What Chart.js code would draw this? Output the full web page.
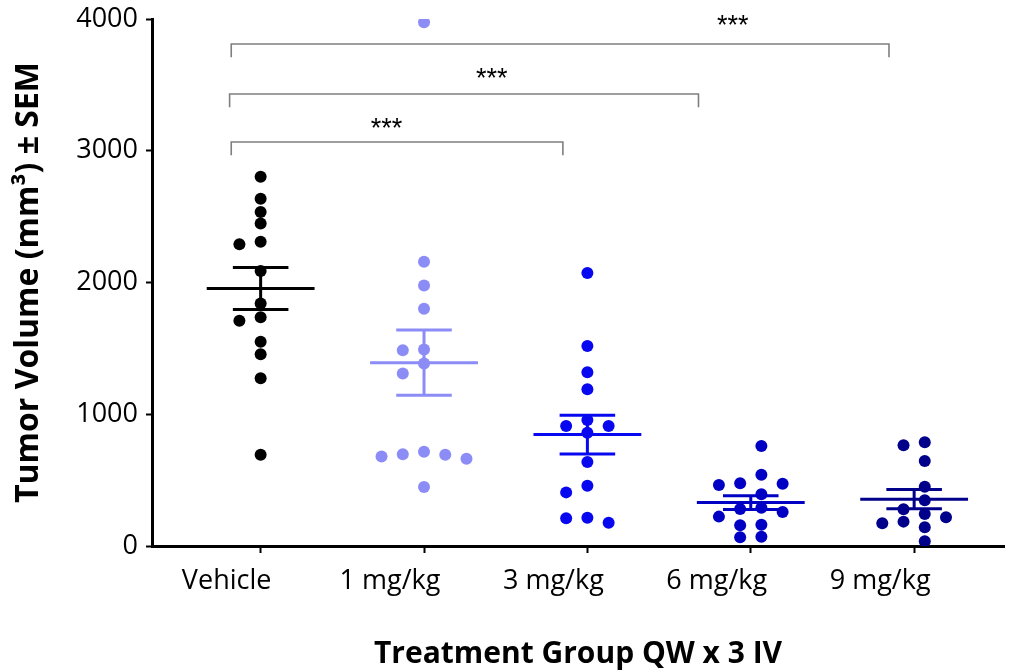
<!DOCTYPE html>
<html>
<head>
<meta charset="utf-8">
<script src="https://cdn.jsdelivr.net/npm/chart.js@4.4.1/dist/chart.umd.min.js"></script>
<style>
  html, body { margin: 0; padding: 0; background: #ffffff; }
  #wrap { width: 1010px; height: 672px; }
</style>
</head>
<body>
<div id="wrap"><canvas id="c" width="1010" height="672"></canvas></div>
<script>
// ---- data ----
const categories = ['Vehicle', '1 mg/kg', '3 mg/kg', '6 mg/kg', '9 mg/kg'];
const vehicle = [2802, 2636, 2535, 2448, 2309, 2290, 2087, 1840, 1736, 1709, 1551, 1456, 1274, 693];
const dose1   = [3975, 2158, 1978, 1801, 1492, 1486, 1386, 1309, 715, 696, 693, 680, 663, 448];
const dose3   = [2072, 1518, 1318, 1189, 956, 911, 911, 860, 638, 458, 407, 215, 210, 177];
const dose6   = [759, 541, 476, 473, 463, 392, 291, 281, 258, 223, 162, 157, 71, 66];
const dose9   = [787, 764, 645, 450, 347, 279, 243, 218, 185, 172, 142, 36];
const yTicks  = [0, 1000, 2000, 3000, 4000];
const groupColors = ['#000000', '#8c8cf7', '#0808f0', '#0000c4', '#00008a'];

// significance brackets (x in category units, y in mm3)
const bracketLeft  = [-0.18, -0.19, -0.18];
const bracketRight = [3.846, 2.68, 1.85];
const bracketLevel = [3810, 3431, 3066];
const starX        = [2.89, 1.415, 0.77];
const starLevel    = [3990, 3590, 3210];
const starText     = ['***', '***', '***'];

const groups = [vehicle, dose1, dose3, dose6, dose9];

// ---- helpers ----
const MIN_GAP = 84;      // vertical overlap limit (mm3) for the swarm layout
const COL_STEP = 0.13;   // horizontal column spacing (category units)

function swarm(values, idx) {
  const order = values.map((v, i) => ({ v, i })).sort((a, b) => b.v - a.v);
  const placed = [];
  for (const o of order) {
    for (const k of [0, -1, 1, -2, 2, -3, 3, -4, 4]) {
      if (!placed.some(p => p.k === k && Math.abs(p.v - o.v) < MIN_GAP)) {
        placed.push({ k, v: o.v });
        break;
      }
    }
  }
  const ks = placed.map(p => p.k);
  const kmin = Math.min(...ks), kmax = Math.max(...ks);
  const shift = (kmax - kmin) >= 3 ? -(kmin + kmax) / 2 : 0;
  return placed.map(p => ({ x: idx + (p.k + shift) * COL_STEP, y: p.v }));
}

function meanSem(values) {
  const n = values.length;
  const m = values.reduce((a, b) => a + b, 0) / n;
  const sd = Math.sqrt(values.reduce((a, b) => a + (b - m) * (b - m), 0) / (n - 1));
  return { m, sem: sd / Math.sqrt(n) };
}

const datasets = [];
groups.forEach((vals, i) => {
  const { m, sem } = meanSem(vals);
  datasets.push({
    type: 'line',
    label: categories[i] + ' mean',
    data: [
      { x: i - 0.33, y: m }, { x: i + 0.33, y: m }, { x: i + 0.34, y: null },
      { x: i, y: m - sem }, { x: i, y: m + sem }, { x: i + 0.01, y: null },
      { x: i - 0.17, y: m + sem }, { x: i + 0.17, y: m + sem }, { x: i + 0.18, y: null },
      { x: i - 0.17, y: m - sem }, { x: i + 0.17, y: m - sem }
    ],
    borderColor: groupColors[i],
    borderWidth: 3,
    pointRadius: 0,
    spanGaps: false,
    tension: 0,
    order: 0
  });
});
groups.forEach((vals, i) => {
  datasets.push({
    type: 'scatter',
    label: categories[i],
    data: swarm(vals, i),
    backgroundColor: groupColors[i],
    borderWidth: 0,
    pointRadius: 6,
    pointHoverRadius: 6,
    order: 1
  });
});

const bracketPlugin = {
  id: 'brackets',
  afterDatasetsDraw(chart) {
    const { ctx } = chart;
    const xs = chart.scales.x, ys = chart.scales.y;
    ctx.save();
    ctx.strokeStyle = '#7f7f7f';
    ctx.lineWidth = 1.6;
    for (let b = 0; b < bracketLevel.length; b++) {
      const x1 = xs.getPixelForValue(bracketLeft[b]);
      const x2 = xs.getPixelForValue(bracketRight[b]);
      const y = ys.getPixelForValue(bracketLevel[b]);
      const yd = ys.getPixelForValue(bracketLevel[b] - 100);
      ctx.beginPath();
      ctx.moveTo(x1, yd);
      ctx.lineTo(x1, y);
      ctx.lineTo(x2, y);
      ctx.lineTo(x2, yd);
      ctx.stroke();
    }
    ctx.fillStyle = '#000000';
    ctx.font = '27px "Liberation Sans", Arial, sans-serif';
    ctx.textAlign = 'center';
    ctx.textBaseline = 'alphabetic';
    for (let s = 0; s < starText.length; s++) {
      const x = xs.getPixelForValue(starX[s]);
      const y = ys.getPixelForValue(starLevel[s]);
      ctx.fillText(starText[s], x, y + 14);
    }
    ctx.restore();
  }
};

new Chart(document.getElementById('c'), {
  data: { datasets },
  options: {
    responsive: false,
    animation: false,
    events: [],
    layout: { padding: { top: 19, right: 2, left: 0, bottom: 0 } },
    plugins: { legend: { display: false }, tooltip: { enabled: false } },
    scales: {
      x: {
        type: 'linear',
        min: -0.665,
        max: 4.55,
        afterBuildTicks(scale) { scale.ticks = categories.map((c, i) => ({ value: i })); },
        afterFit(scale) { scale.height = 126; scale.paddingLeft = 0; scale.paddingRight = 0; },
        ticks: {
          autoSkip: false,
          maxRotation: 0,
          color: '#000000',
          padding: 12,
          labelOffset: -34,
          font: { family: '"Open Sans", Lato, sans-serif', size: 27 },
          callback: (v) => categories[Math.round(v)] ?? ''
        },
        grid: { drawOnChartArea: false, drawTicks: true, tickLength: 7, tickWidth: 2, tickColor: '#000000' },
        border: { display: true, color: '#000000', width: 3 },
        title: {
          display: true,
          text: 'Treatment Group QW x 3 IV',
          color: '#000000',
          font: { family: '"Open Sans", Lato, sans-serif', size: 30, weight: 'bold' },
          padding: { top: 0, bottom: 0 }
        }
      },
      y: {
        type: 'linear',
        min: 0,
        max: 4000,
        afterBuildTicks(scale) { scale.ticks = yTicks.map(v => ({ value: v })); },
        afterFit(scale) { scale.width = 152; scale.paddingTop = 0; scale.paddingBottom = 0; },
        ticks: {
          color: '#000000',
          padding: 8,
          font: { family: '"Open Sans", Lato, sans-serif', size: 27 },
          callback: (v) => String(v)
        },
        grid: { drawOnChartArea: false, drawTicks: true, tickLength: 6, tickWidth: 2, tickColor: '#000000' },
        border: { display: true, color: '#000000', width: 3 },
        title: {
          display: true,
          text: 'Tumor Volume (mm³) ± SEM',
          color: '#000000',
          font: { family: '"Open Sans", Lato, sans-serif', size: 32, weight: 'bold' },
          padding: { top: 10, bottom: 0 }
        }
      }
    }
  },
  plugins: [bracketPlugin]
});
</script>
</body>
</html>
